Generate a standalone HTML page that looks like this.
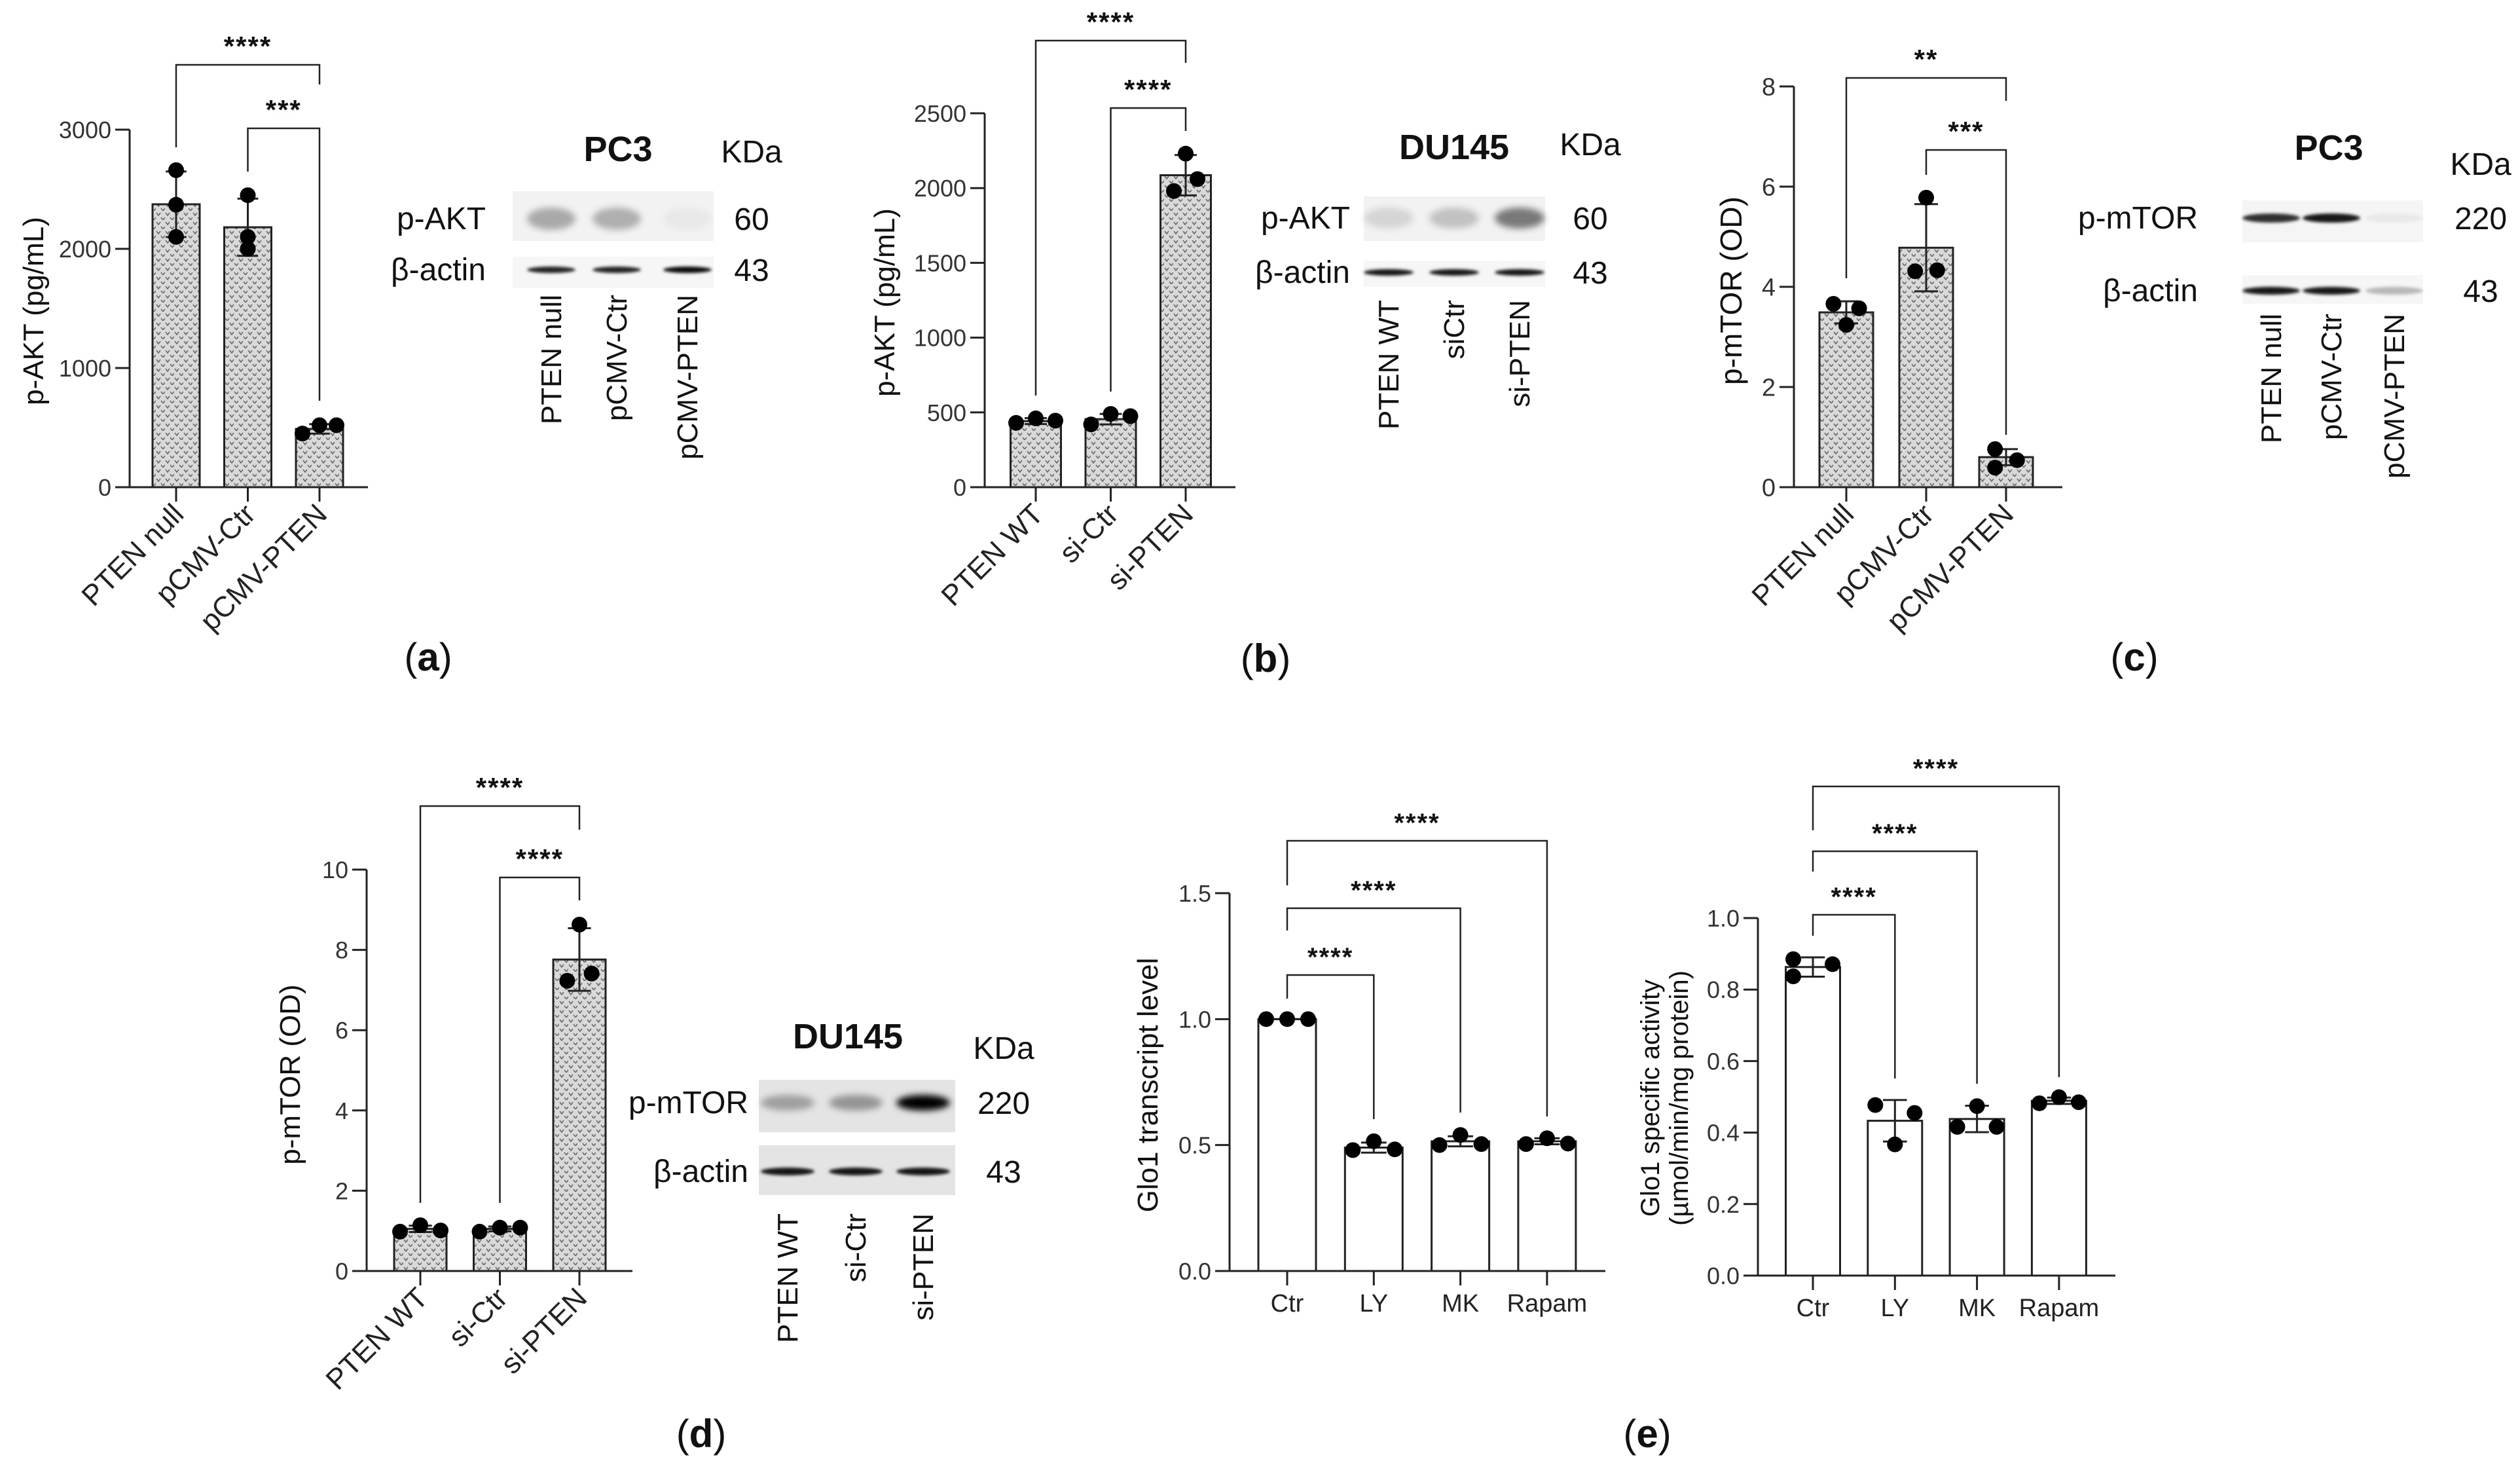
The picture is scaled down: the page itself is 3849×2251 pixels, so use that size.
<!DOCTYPE html>
<html><head><meta charset="utf-8"><style>
html,body{margin:0;padding:0;background:#fff;}
svg{display:block;font-family:"Liberation Sans",Arial,sans-serif;}
</style></head><body>
<svg id="fig" width="3849" height="2251" viewBox="0 0 3849 2251" xmlns="http://www.w3.org/2000/svg">
<defs>
<pattern id="hatch" width="14" height="14" patternUnits="userSpaceOnUse">
<rect width="14" height="14" fill="#d9d9d9"/>
<path d="M1 3 L4 7 L7 3 M8 10 L11 14 L14 10" stroke="#6a6a6a" stroke-width="1.6" fill="none"/>
</pattern>
<filter id="blur4" x="-30%" y="-100%" width="160%" height="300%"><feGaussianBlur stdDeviation="5"/></filter>
<filter id="blur2" x="-30%" y="-100%" width="160%" height="300%"><feGaussianBlur stdDeviation="2.5"/></filter>
</defs>
<g id="root"></g>
</svg>
<script>
// ---------- DATA ----------
const aCategories = ["PTEN null","pCMV-Ctr","pCMV-PTEN"];
const aMeans = [2374, 2181, 489];
const aSD = [275, 240, 40];
const aPoints = [[2660,2370,2100],[2450,2100,2000],[450,520,520]];
const aJitter = [[0,0,0],[0,0,0],[-1,0,1]];
const aTicks = [0,1000,2000,3000];

const bCategories = ["PTEN WT","si-Ctr","si-PTEN"];
const bMeans = [442, 455, 2086];
const bSD = [20, 35, 135];
const bPoints = [[430,460,445],[420,490,475],[2230,1980,2060]];
const bJitter = [[-1,0,1],[-1,0,1],[0,-0.6,0.6]];
const bTicks = [0,500,1000,1500,2000,2500];

const cCategories = ["PTEN null","pCMV-Ctr","pCMV-PTEN"];
const cMeans = [3.49, 4.78, 0.60];
const cSD = [0.22, 0.87, 0.16];
const cPoints = [[3.66,3.57,3.24],[5.78,4.31,4.33],[0.76,0.54,0.39]];
const cJitter = [[-0.7,0.7,0],[0,-0.6,0.6],[-0.6,0.6,-0.6]];
const cTicks = [0,2,4,6,8];

const dCategories = ["PTEN WT","si-Ctr","si-PTEN"];
const dMeans = [1.05, 1.05, 7.76];
const dSD = [0.08, 0.06, 0.78];
const dPoints = [[0.98,1.14,1.01],[0.98,1.08,1.08],[8.63,7.41,7.23]];
const dJitter = [[-1,0,1],[-1,0,1],[0,0.6,-0.6]];
const dTicks = [0,2,4,6,8,10];

const e1Categories = ["Ctr","LY","MK","Rapam"];
const e1Means = [1.0, 0.49, 0.515, 0.515];
const e1SD = [0.0, 0.02, 0.02, 0.012];
const e1Points = [[1,1,1],[0.48,0.515,0.483],[0.50,0.54,0.504],[0.504,0.527,0.506]];
const e1Jitter = [[-1,0,1],[-1,0,1],[-1,0,1],[-1,0,1]];
const e1Ticks = [0,0.5,1.0,1.5];

const e2Categories = ["Ctr","LY","MK","Rapam"];
const e2Means = [0.863, 0.433, 0.438, 0.489];
const e2SD = [0.027, 0.058, 0.037, 0.009];
const e2Points = [[0.885,0.837,0.871],[0.477,0.367,0.455],[0.416,0.474,0.416],[0.482,0.499,0.485]];
const e2Jitter = [[-1,-1,1],[-1,0,1],[-1,0,1],[-1,0,1]];
const e2Ticks = [0,0.2,0.4,0.6,0.8,1.0];

// ---------- helpers ----------
const NS="http://www.w3.org/2000/svg";
const root=document.getElementById('root');
function el(tag, attrs, parent, text){
  const e=document.createElementNS(NS,tag);
  for(const k in attrs) e.setAttribute(k, attrs[k]);
  if(text!==undefined) e.textContent=text;
  (parent||root).appendChild(e);
  return e;
}

function chart(cfg){
  const g=el('g',{});
  
  
  const yMax=cfg.ticks[cfg.ticks.length-1];
  const y=v=>cfg.y0-(v/yMax)*(cfg.y0-cfg.yTop);
  const x=i=>cfg.x0+i*cfg.step;
  cfg.means.forEach((m,i)=>{
    const r=el('rect',{x:x(i)-cfg.bw/2,y:y(m),width:cfg.bw,height:cfg.y0-y(m),fill:cfg.fill,stroke:'#222','stroke-width':3},g);
    
    
  });
  cfg.means.forEach((m,i)=>{
    const s=cfg.sd[i], cw=cfg.bw*0.22;
    const eg=el('g',{stroke:'#222','stroke-width':3},g);
    
    
    el('line',{x1:x(i),x2:x(i),y1:y(m+s),y2:y(m-s)},eg);
    el('line',{x1:x(i)-cw,x2:x(i)+cw,y1:y(m+s),y2:y(m+s)},eg);
    el('line',{x1:x(i)-cw,x2:x(i)+cw,y1:y(m-s),y2:y(m-s)},eg);
  });
  cfg.pts.forEach((arr,i)=>{
    arr.forEach((v,j)=>{
      const c=el('circle',{cx:x(i)+cfg.jit[i][j]*cfg.spread,cy:y(v),r:cfg.r||12,fill:'#000'},g);
      
      
    });
  });
  const ax=el('g',{stroke:'#222','stroke-width':3},g);
  
  
  el('line',{x1:cfg.ax,x2:cfg.ax,y1:cfg.yTop,y2:cfg.y0},ax);
  el('line',{x1:cfg.ax-22,x2:cfg.xEnd,y1:cfg.y0,y2:cfg.y0},ax);
  cfg.ticks.forEach(t=>{
    el('line',{x1:cfg.ax-22,x2:cfg.ax,y1:y(t),y2:y(t)},ax);
    const tl=el('text',{x:cfg.ax-28,y:y(t)+cfg.tf*0.36,'font-size':cfg.tf,fill:'#333','text-anchor':'end'},g,cfg.fmt(t));
    
    
  });
  cfg.cats.forEach((c,i)=>{
    el('line',{x1:x(i),x2:x(i),y1:cfg.y0,y2:cfg.y0+22},ax);
    let t;
    if(cfg.rot){
      const px=x(i)+14, py=cfg.y0+44;
      t=el('text',{x:px,y:py,'font-size':cfg.xf,fill:'#222','text-anchor':'end',transform:`rotate(-45 ${px} ${py})`},g,c);
    } else {
      t=el('text',{x:x(i),y:cfg.y0+62,'font-size':cfg.xf,fill:'#222','text-anchor':'middle'},g,c);
    }
    
    
  });
  cfg.title.forEach((line,k)=>{
    const tx=cfg.titleX+k*cfg.af*1.1, ty=cfg.titleY;
    const t=el('text',{x:tx,y:ty,'font-size':cfg.af,fill:'#111','text-anchor':'middle',transform:`rotate(-90 ${tx} ${ty})`},g,line);
    
    
  });
  cfg.brackets.forEach(b=>{
    const bg=el('g',{},g);
    
    
    el('path',{d:`M${x(b[0])} ${b[3]} L${x(b[0])} ${b[2]} L${x(b[1])} ${b[2]} L${x(b[1])} ${b[4]}`,fill:'none',stroke:'#222','stroke-width':2.5},bg);
    el('text',{x:(x(b[0])+x(b[1]))/2,y:b[2]-14,'font-size':cfg.sf,fill:'#111','text-anchor':'middle','letter-spacing':2,'font-weight':'bold'},bg,b[5]);
  });
}

chart({name:'chart-a-pakt-pc3',cats:aCategories,means:aMeans,sd:aSD,pts:aPoints,jit:aJitter,spread:26,ticks:aTicks,fmt:t=>String(t),
  x0:269,step:109.5,bw:72,ax:198,y0:744,yTop:198,xEnd:562,fill:'url(#hatch)',rot:true,tf:36,xf:44,af:44,sf:42,
  title:['p-AKT (pg/mL)'],titleX:66,titleY:475,
  brackets:[[0,2,99,225,129,'****'],[1,2,196,262,612,'***']]});
chart({name:'chart-b-pakt-du145',cats:bCategories,means:bMeans,sd:bSD,pts:bPoints,jit:bJitter,spread:30,ticks:bTicks,fmt:t=>String(t),
  x0:1582,step:114.5,bw:77,ax:1504,y0:744,yTop:173,xEnd:1887,fill:'url(#hatch)',rot:true,tf:36,xf:44,af:44,sf:42,
  title:['p-AKT (pg/mL)'],titleX:1366,titleY:462,
  brackets:[[0,2,62,604,96,'****'],[1,2,165,598,200,'****']]});
chart({name:'chart-c-pmtor-pc3',cats:cCategories,means:cMeans,sd:cSD,pts:cPoints,jit:cJitter,spread:28,ticks:cTicks,fmt:t=>String(t),
  x0:2820,step:122,bw:82,ax:2740,y0:744,yTop:132,xEnd:3150,fill:'url(#hatch)',rot:true,tf:38,xf:44,af:46,sf:42,
  title:['p-mTOR (OD)'],titleX:2660,titleY:444,
  brackets:[[0,2,119,425,154,'**'],[1,2,229,267,664,'***']]});
chart({name:'chart-d-pmtor-du145',cats:dCategories,means:dMeans,sd:dSD,pts:dPoints,jit:dJitter,spread:31,ticks:dTicks,fmt:t=>String(t),
  x0:642,step:121.5,bw:80,ax:560,y0:1941,yTop:1328,xEnd:966,fill:'url(#hatch)',rot:true,tf:36,xf:44,af:44,sf:42,
  title:['p-mTOR (OD)'],titleX:458,titleY:1641,
  brackets:[[0,2,1231,1837,1267,'****'],[1,2,1340,1837,1375,'****']]});
chart({name:'chart-e-glo1-transcript',cats:e1Categories,means:e1Means,sd:e1SD,pts:e1Points,jit:e1Jitter,spread:32,ticks:e1Ticks,fmt:t=>t.toFixed(1),
  x0:1966,step:132.3,bw:88,ax:1878,y0:1941,yTop:1364,xEnd:2452,fill:'#fff',rot:false,tf:36,xf:38,af:44,sf:40,r:12,
  title:['Glo1 transcript level'],titleX:1768,titleY:1657,
  brackets:[[0,1,1489,1525,1709,'****'],[0,2,1387,1421,1699,'****'],[0,3,1284,1352,1705,'****']]});
chart({name:'chart-e-glo1-activity',cats:e2Categories,means:e2Means,sd:e2SD,pts:e2Points,jit:e2Jitter,spread:30,ticks:e2Ticks,fmt:t=>t.toFixed(1),
  x0:2769,step:125.3,bw:83,ax:2685,y0:1948,yTop:1402,xEnd:3231,fill:'#fff',rot:false,tf:36,xf:38,af:40,sf:40,r:12,
  title:['Glo1 specific activity','(µmol/min/mg protein)'],titleX:2534,titleY:1677,
  brackets:[[0,1,1397,1429,1647,'****'],[0,2,1300,1331,1655,'****'],[0,3,1201,1268,1645,'****']]});

// ---------- western blots ----------
function blot(cfg){
  const g=el('g',{});
  
  
  const t1=el('text',{x:cfg.titleX,y:cfg.titleY,'font-size':54,'font-weight':'bold','text-anchor':'middle',fill:'#111'},g,cfg.title);
  
  
  const t2=el('text',{x:cfg.kdaX,y:cfg.kdaY,'font-size':48,'text-anchor':'middle',fill:'#111'},g,'KDa');
  
  
  cfg.rows.forEach(r=>{
    el('rect',{x:cfg.bx0,y:r.y0,width:cfg.bx1-cfg.bx0,height:r.y1-r.y0,fill:r.bg},g);
    cfg.lanes.forEach((lx,i)=>{
      const a=r.int[i];
      el('ellipse',{cx:lx,cy:r.cy,rx:cfg.bandW/2,ry:r.h/2,fill:'#000','fill-opacity':a,filter:r.h>20?'url(#blur4)':'url(#blur2)'},g);
    });
    const lab=el('text',{x:cfg.labX,y:r.cy+16,'font-size':48,'text-anchor':'end',fill:'#111'},g,r.label);
    
    
    const kd=el('text',{x:cfg.kdaX,y:r.cy+17,'font-size':48,'text-anchor':'middle',fill:'#111'},g,r.kda);
    
    
  });
  cfg.laneLabels.forEach((s,i)=>{
    const lx=cfg.lanes[i]+15, ly=cfg.laneTop;
    const t=el('text',{x:lx,y:ly,'font-size':44,'text-anchor':'end',fill:'#111',transform:`rotate(-90 ${lx} ${ly})`},g,s);
    
    
  });
}
blot({name:'blot-a-pc3',title:'PC3',titleX:944,titleY:246,kdaX:1148,kdaY:248,bx0:783,bx1:1090,labX:742,bandW:74,
  lanes:[842,942,1050],laneTop:450,laneLabels:['PTEN null','pCMV-Ctr','pCMV-PTEN'],
  rows:[{label:'p-AKT',kda:'60',y0:292,y1:368,cy:334,h:34,bg:'#f2f2f2',int:[0.3,0.28,0.04]},
        {label:'β-actin',kda:'43',y0:392,y1:440,cy:412,h:10,bg:'#f6f6f6',int:[0.85,0.85,0.95]}]});
blot({name:'blot-b-du145',title:'DU145',titleX:2221,titleY:243,kdaX:2429,kdaY:237,bx0:2083,bx1:2360,labX:2062,bandW:76,
  lanes:[2121,2221,2321],laneTop:458,laneLabels:['PTEN WT','siCtr','si-PTEN'],
  rows:[{label:'p-AKT',kda:'60',y0:300,y1:368,cy:333,h:32,bg:'#f2f2f2',int:[0.12,0.2,0.5]},
        {label:'β-actin',kda:'43',y0:398,y1:438,cy:416,h:10,bg:'#f6f6f6',int:[0.9,0.9,0.9]}]});
blot({name:'blot-c-pc3',title:'PC3',titleX:3557,titleY:244,kdaX:3789,kdaY:267,bx0:3425,bx1:3701,labX:3357,bandW:88,
  lanes:[3469,3561,3657],laneTop:479,laneLabels:['PTEN null','pCMV-Ctr','pCMV-PTEN'],
  rows:[{label:'p-mTOR',kda:'220',y0:306,y1:370,cy:333,h:14,bg:'#f5f5f5',int:[0.8,0.9,0.05]},
        {label:'β-actin',kda:'43',y0:420,y1:464,cy:444,h:12,bg:'#f6f6f6',int:[0.9,0.9,0.25]}]});
blot({name:'blot-d-du145',title:'DU145',titleX:1295,titleY:1601,kdaX:1533,kdaY:1617,bx0:1159,bx1:1459,labX:1143,bandW:82,
  lanes:[1203,1307,1410],laneTop:1853,laneLabels:['PTEN WT','si-Ctr','si-PTEN'],
  rows:[{label:'p-mTOR',kda:'220',y0:1649,y1:1729,cy:1684,h:24,bg:'#e4e4e4',int:[0.3,0.35,1.0]},
        {label:'β-actin',kda:'43',y0:1749,y1:1825,cy:1789,h:12,bg:'#e4e4e4',int:[0.9,0.9,0.9]}]});

// ---------- panel letters ----------
[['(a)',654,1024],['(b)',1933,1026],['(c)',3260,1024],['(d)',1071,2210],['(e)',2516,2210]].forEach(p=>{
  const t=el('text',{x:p[1],y:p[2],'font-size':60,'text-anchor':'middle',fill:'#111'});
  
  
  const a=document.createElementNS(NS,'tspan'); a.textContent='(';
  const b=document.createElementNS(NS,'tspan'); b.setAttribute('font-weight','bold'); b.textContent=p[0][1];
  const c=document.createElementNS(NS,'tspan'); c.textContent=')';
  t.appendChild(a); t.appendChild(b); t.appendChild(c);
});
</script>
</body></html>
